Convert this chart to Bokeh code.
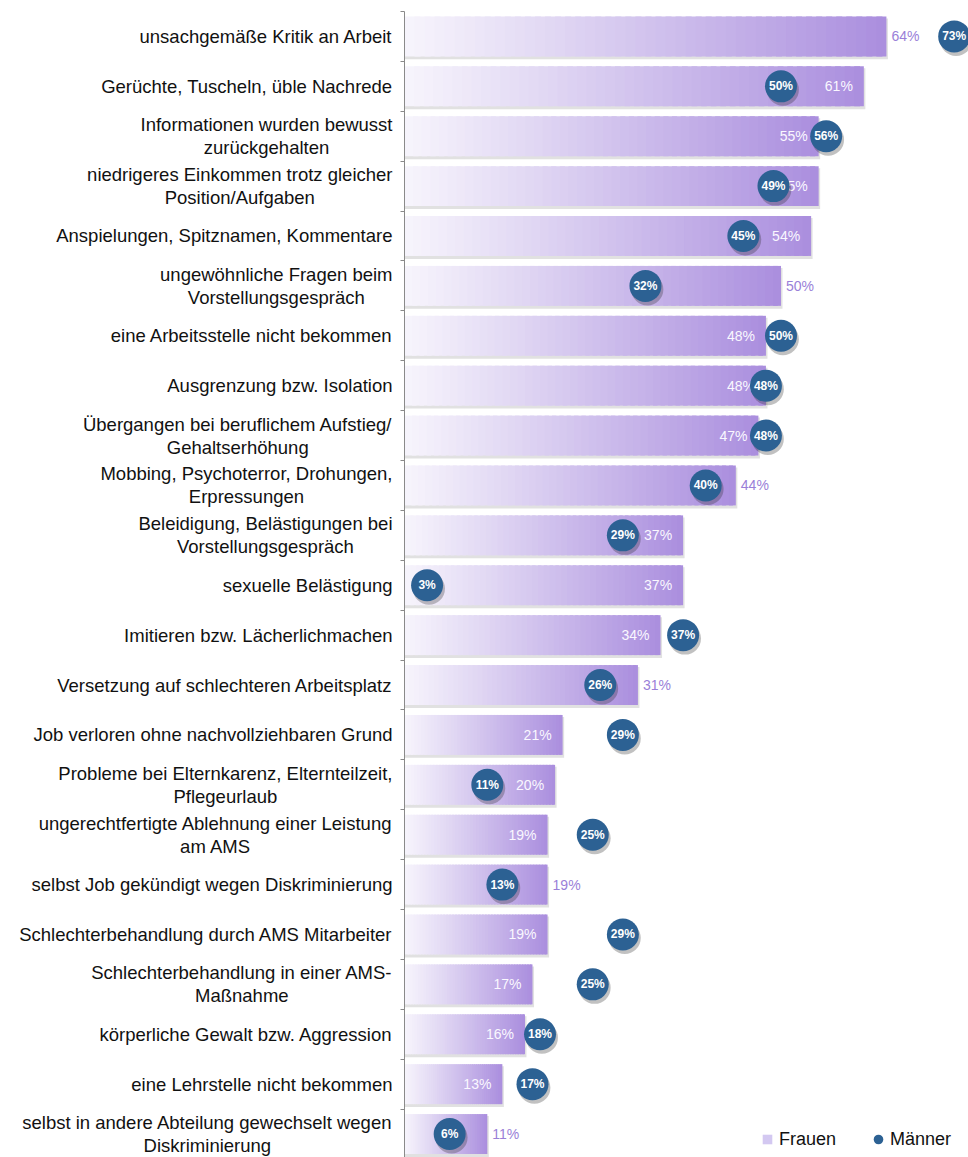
import numpy as np
from bokeh.plotting import figure
from bokeh.models import ColumnDataSource, Range1d, LinearAxis, FixedTicker, Legend, LegendItem
from bokeh.core.properties import value
from bokeh.embed import file_html
from bokeh.resources import INLINE

categories = [
    "unsachgemäße Kritik an Arbeit",
    "Gerüchte, Tuscheln, üble Nachrede",
    "Informationen wurden bewusst\nzurückgehalten",
    "niedrigeres Einkommen trotz gleicher\nPosition/Aufgaben",
    "Anspielungen, Spitznamen, Kommentare",
    "ungewöhnliche Fragen beim\nVorstellungsgespräch",
    "eine Arbeitsstelle nicht bekommen",
    "Ausgrenzung bzw. Isolation",
    "Übergangen bei beruflichem Aufstieg/\nGehaltserhöhung",
    "Mobbing, Psychoterror, Drohungen,\nErpressungen",
    "Beleidigung, Belästigungen bei\nVorstellungsgespräch",
    "sexuelle Belästigung",
    "Imitieren bzw. Lächerlichmachen",
    "Versetzung auf schlechteren Arbeitsplatz",
    "Job verloren ohne nachvollziehbaren Grund",
    "Probleme bei Elternkarenz, Elternteilzeit,\nPflegeurlaub",
    "ungerechtfertigte Ablehnung einer Leistung\nam AMS",
    "selbst Job gekündigt wegen Diskriminierung",
    "Schlechterbehandlung durch AMS Mitarbeiter",
    "Schlechterbehandlung in einer AMS-\nMaßnahme",
    "körperliche Gewalt bzw. Aggression",
    "eine Lehrstelle nicht bekommen",
    "selbst in andere Abteilung gewechselt wegen\nDiskriminierung",
]
frauen = [64, 61, 55, 55, 54, 50, 48, 48, 47, 44, 37, 37, 34, 31, 21, 20, 19, 19, 19, 17, 16, 13, 11]
maenner = [73, 50, 56, 49, 45, 32, 50, 48, 48, 40, 29, 3, 37, 26, 29, 11, 25, 13, 29, 25, 18, 17, 6]
frauen_label_inside = [False, True, True, True, True, False, True, True, True, False, True, True,
                       True, False, True, True, True, False, True, True, True, True, False]

FONT = "Liberation Sans"
n = len(categories)
rows = np.arange(n)

p = figure(width=968, height=1157, output_backend="svg", toolbar_location=None,
           x_range=Range1d(-53.65, 74.9), y_range=Range1d(22.47, -0.72),
           x_axis_location=None, y_axis_location=None, min_border=0,
           outline_line_color=None, background_fill_color="white", border_fill_color="white")
p.xgrid.visible = False
p.ygrid.visible = False

# axis with ticks at category boundaries
bounds_ticks = [float(t) for t in np.arange(n + 1) - 0.5]
yaxis = LinearAxis(fixed_location=0, ticker=FixedTicker(ticks=bounds_ticks),
                   bounds=(-0.5, n - 0.5), axis_line_color="#8a8a8a", axis_line_width=1,
                   major_tick_line_color="#8a8a8a", major_tick_out=4, major_tick_in=0,
                   minor_tick_line_color=None, major_label_text_font_size="0px",
                   major_label_text_color=None)
p.add_layout(yaxis, "left")

# bar shadows
fr = np.array(frauen, dtype=float)
p.quad(left=np.zeros(n), right=fr + 0.2, top=rows - 0.36, bottom=rows + 0.46,
       fill_color="#bdbdbd", fill_alpha=0.45, line_color=None)

# gradient bars (each bar split in slices along its own length)
N = 48
light = np.array([247, 245, 252], dtype=float)
dark = np.array([170, 142, 222], dtype=float)
L, R, T, B, C = [], [], [], [], []
for i, v in enumerate(frauen):
    for k in range(N):
        t = (k + 0.5) / N
        c = light + (dark - light) * t ** 1.05
        L.append(v * k / N)
        R.append(min(v, v * (k + 1.6) / N))
        T.append(i - 0.4)
        B.append(i + 0.4)
        C.append("#%02x%02x%02x" % tuple(int(round(x)) for x in c))
p.quad(source=ColumnDataSource(dict(left=L, right=R, top=T, bottom=B, color=C)),
       left="left", right="right", top="top", bottom="bottom",
       fill_color="color", line_color=None)

# category labels
p.text(x=np.zeros(n), y=rows, text=categories, x_offset=-12,
       anchor=value("center_right"), text_align="center", text_baseline="middle",
       text_font=value(FONT), text_font_size="18.5px", text_color="#111111",
       text_line_height=1.1)

# Frauen value labels
fi = [i for i in range(n) if frauen_label_inside[i]]
fo = [i for i in range(n) if not frauen_label_inside[i]]
p.text(x=[frauen[i] for i in fi], y=[int(i) for i in fi], text=[f"{frauen[i]}%" for i in fi],
       x_offset=-11, text_align="right", text_baseline="middle",
       text_font=value(FONT), text_font_size="14px", text_color="#faf8ff")
p.text(x=[frauen[i] for i in fo], y=[int(i) for i in fo], text=[f"{frauen[i]}%" for i in fo],
       x_offset=5, text_align="left", text_baseline="middle",
       text_font=value(FONT), text_font_size="14px", text_color="#9a7fd8")

# Männer circles
ma = np.array(maenner, dtype=float)
p.scatter(x=ma + 0.25, y=rows + 0.07, marker="circle", size=32,
          fill_color="#222222", fill_alpha=0.28, line_color=None)
p.scatter(x=ma, y=rows, marker="circle", size=32, fill_color="#2c6193", line_color=None)
p.text(x=ma, y=rows, text=[f"{m}%" for m in maenner], text_align="center",
       text_baseline="middle", text_font=value(FONT), text_font_size="12px",
       text_font_style="bold", text_color="white")

# legend (marker-only renderers with no visible point)
r_f = p.scatter(x=[np.nan], y=[np.nan], marker="square", fill_color="#d3c8f1", line_color=None)
r_m = p.scatter(x=[np.nan], y=[np.nan], marker="circle", fill_color="#2c6193", line_color=None)
legend = Legend(items=[LegendItem(label="Frauen", renderers=[r_f], index=0),
                       LegendItem(label="Männer", renderers=[r_m], index=0)],
                orientation="horizontal", location=(755, 6), glyph_width=24, glyph_height=24,
                label_standoff=0, spacing=30, padding=0, margin=0,
                border_line_color=None, background_fill_alpha=0,
                label_text_font=FONT, label_text_font_size="18px", label_text_color="#111111")
p.add_layout(legend)

open("out.html", "w").write(file_html(p, INLINE))
